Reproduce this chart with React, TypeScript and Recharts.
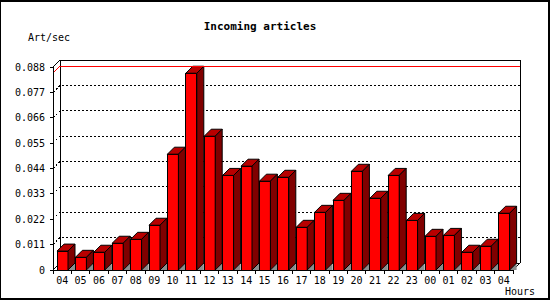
import { BarChart, Bar, XAxis, YAxis, CartesianGrid, ReferenceLine } from "recharts";

const hours = [
  "04", "05", "06", "07", "08", "09", "10", "11", "12", "13", "14", "15", "16",
  "17", "18", "19", "20", "21", "22", "23", "00", "01", "02", "03", "04",
];
const artPerSec = [
  0.0082, 0.0055, 0.0077, 0.0116, 0.0133, 0.0194, 0.0502, 0.0853, 0.058, 0.041, 0.045, 0.0385, 0.0402,
  0.0185, 0.025, 0.0302, 0.0428, 0.0311, 0.041, 0.0215, 0.0146, 0.015, 0.0077, 0.0103, 0.0246,
];
const yTicks = [0, 0.011, 0.022, 0.033, 0.044, 0.055, 0.066, 0.077, 0.088];

const data = hours.map((hour, i) => ({ hour, rate: artPerSec[i] }));
const peak = Math.max(...artPerSec);

const D = 7; // depth of the 3d offset
const MONO = '"DejaVu Sans Mono", "Liberation Mono", monospace';

function Bar3D(p: any) {
  const { x, y, width: w, height: h } = p;
  if (!h || h <= 0) return null;
  const b = y + h;
  return (
    <g stroke="#000" strokeWidth={1}>
      <polygon points={`${x + w},${b} ${x + w + D},${b - D} ${x + w + D},${b}`} fill="#8c8c8c" stroke="none" />
      <rect x={x} y={y} width={w} height={h} fill="#ff0000" shapeRendering="crispEdges" />
      <polygon points={`${x},${y} ${x + D},${y - D} ${x + w + D},${y - D} ${x + w},${y}`} fill="#b80000" />
      <polygon points={`${x + w},${y} ${x + w + D},${y - D} ${x + w + D},${b - D} ${x + w},${b}`} fill="#800000" />
    </g>
  );
}

function GridLine(p: any) {
  const { x1, x2, y1, y, height } = p;
  const top = Math.abs(y1 - y) < 0.5;
  const bottom = Math.abs(y1 - (y + height)) < 0.5;
  const pts = `${x1},${y1} ${x1 + D},${y1 - D} ${x2 + D},${y1 - D}`;
  if (top) {
    const yb = y + height;
    return (
      <g stroke="#000" fill="none" shapeRendering="crispEdges">
        <polyline points={pts} />
        <line x1={x1 + D} y1={y1 - D} x2={x1 + D} y2={yb - D} />
        <line x1={x2 + D} y1={y1 - D} x2={x2 + D} y2={yb - D} />
      </g>
    );
  }
  if (bottom) {
    return (
      <g stroke="#000" fill="none" shapeRendering="crispEdges">
        <polyline points={pts} />
        <line x1={x2} y1={y1} x2={x2 + D} y2={y1 - D} />
      </g>
    );
  }
  return (
    <polyline points={pts} stroke="#000" fill="none" strokeDasharray="2 2" shapeRendering="crispEdges" />
  );
}

function PeakLine(p: any) {
  const { x1, x2, y1 } = p;
  return (
    <polyline
      points={`${x1},${y1} ${x1 + D},${y1 - D} ${x2 + D},${y1 - D}`}
      stroke="#ff0000"
      fill="none"
      shapeRendering="crispEdges"
    />
  );
}

function HourTick(p: any) {
  const { x, y, payload } = p;
  const half = payload?.offset ?? 9.2;
  const axisY = y - 6;
  return (
    <g>
      <line x1={x - half} y1={axisY} x2={x - half} y2={axisY + 4} stroke="#000" shapeRendering="crispEdges" />
      <line x1={x + half} y1={axisY} x2={x + half} y2={axisY + 4} stroke="#000" shapeRendering="crispEdges" />
      <text x={x} y={y + 7.5} textAnchor="middle" fontFamily={MONO} fontSize={10} fill="#000">
        {payload.value}
      </text>
    </g>
  );
}

export default function App() {
  return (
    <div style={{ position: "relative", width: 550, height: 300, background: "#fff" }}>
      <style>{"body{margin:0}"}</style>
      <BarChart
        width={550}
        height={300}
        data={data}
        margin={{ top: 67, right: 37, bottom: 0, left: 0 }}
        barSize={11}
      >
        <CartesianGrid horizontal={GridLine} vertical={false} />
        <XAxis
          dataKey="hour"
          interval={0}
          height={30}
          tickSize={4}
          tickMargin={2}
          tickLine={false}
          axisLine={{ stroke: "#000", shapeRendering: "crispEdges" }}
          tick={HourTick}
        />
        <YAxis
          width={53}
          domain={[0, 0.088]}
          ticks={yTicks}
          interval={0}
          tickSize={3}
          tickMargin={5}
          axisLine={{ stroke: "#000", shapeRendering: "crispEdges" }}
          tickLine={{ stroke: "#000", shapeRendering: "crispEdges" }}
          tick={{ fontFamily: MONO, fontSize: 10, fill: "#000" }}
          tickFormatter={(v: number) => (v === 0 ? "0" : v.toFixed(3))}
        />
        <Bar dataKey="rate" shape={(p: any) => <Bar3D {...p} />} isAnimationActive={false} />
        <ReferenceLine y={peak} shape={PeakLine} />
      </BarChart>
      <svg
        width={550}
        height={300}
        style={{ position: "absolute", left: 0, top: 0, pointerEvents: "none" }}
      >
        <text x={260} y={30} textAnchor="middle" fontFamily={MONO} fontSize={11} fontWeight="bold">
          Incoming articles
        </text>
        <text x={28} y={41} fontFamily={MONO} fontSize={10}>
          Art/sec
        </text>
        <text x={505} y={295} fontFamily={MONO} fontSize={10}>
          Hours
        </text>
        <rect x={0} y={0} width={550} height={2} fill="#000" />
        <rect x={0} y={298} width={550} height={2} fill="#000" />
        <rect x={0} y={0} width={1} height={300} fill="#000" />
        <rect x={548} y={0} width={2} height={300} fill="#000" />
      </svg>
    </div>
  );
}
